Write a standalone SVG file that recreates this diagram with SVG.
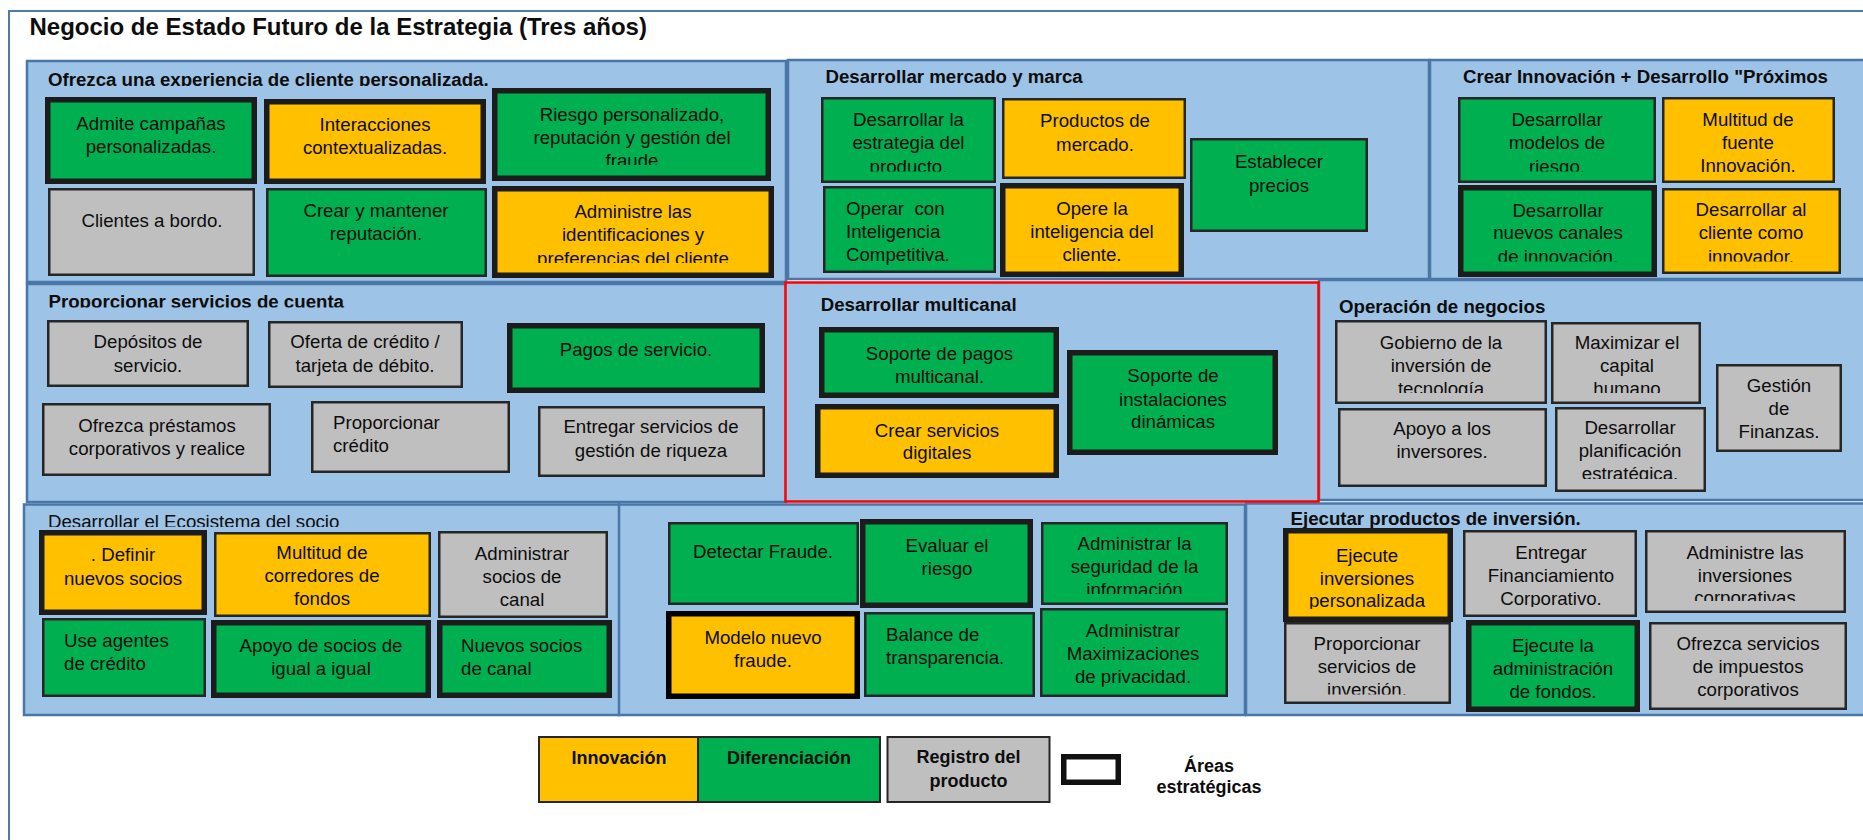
<svg xmlns="http://www.w3.org/2000/svg" width="1863" height="840" viewBox="0 0 1863 840">
<style>
.bg{fill:#ffffff}
.frame{fill:none;stroke:#4f7bab;stroke-width:2}
.pan{fill:#9dc3e6;stroke:#4a76a8;stroke-width:2.5}
.red{fill:#9dc3e6;stroke:#ff0000;stroke-width:2.5}
.g{fill:#00b050}
.o{fill:#ffc000}
.gr{fill:#bfbfbf}
.t{stroke:#1c1c1c;stroke-width:5.5}
.m{stroke:#262626;stroke-width:2.5}
text{font-family:"Liberation Sans",Arial,sans-serif;font-size:18.67px;fill:#0d0d0d}
.c{text-anchor:middle}
.b{font-weight:bold}
.title{font-size:24px;font-weight:bold}
</style>
<defs>
<clipPath id="c3"><rect x="492" y="88" width="279" height="77"/></clipPath>
<clipPath id="c6"><rect x="492" y="186" width="282" height="77"/></clipPath>
<clipPath id="c7"><rect x="821" y="97" width="175" height="74.5"/></clipPath>
<clipPath id="c12"><rect x="1458" y="97" width="198" height="74.5"/></clipPath>
<clipPath id="c14"><rect x="1458" y="185" width="199" height="76.5"/></clipPath>
<clipPath id="c15"><rect x="1662" y="188" width="179" height="73.5"/></clipPath>
<clipPath id="c25"><rect x="1335" y="320" width="212" height="73"/></clipPath>
<clipPath id="c26"><rect x="1551" y="322" width="150" height="71"/></clipPath>
<clipPath id="c29"><rect x="1555" y="407" width="151" height="72"/></clipPath>
<clipPath id="c38"><rect x="1041" y="522" width="187" height="72"/></clipPath>
<clipPath id="c42"><rect x="1283" y="528" width="170" height="81"/></clipPath>
<clipPath id="c43"><rect x="1463" y="530" width="174" height="77"/></clipPath>
<clipPath id="c44"><rect x="1645" y="530" width="201" height="71"/></clipPath>
<clipPath id="c45"><rect x="1284" y="622" width="167" height="72.5"/></clipPath>
<clipPath id="cp1"><rect x="27" y="61" width="759" height="25"/></clipPath>
<clipPath id="cp4"><rect x="27" y="284" width="759" height="23.5"/></clipPath>
<clipPath id="cp7"><rect x="24" y="504" width="595" height="23"/></clipPath>
</defs>
<rect class="bg" x="0" y="0" width="1863" height="840"/>
<rect class="frame" x="9" y="11" width="1900" height="900"/>
<text class="title" x="29.5" y="35">Negocio de Estado Futuro de la Estrategia (Tres años)</text>

<g id="panels">
<g id="p_ofrezca"><rect class="pan" x="27" y="61" width="759" height="221"/><text class="b" x="48" y="85.5" clip-path="url(#cp1)">Ofrezca una experiencia de cliente personalizada.</text></g>
<g id="p_mercado"><rect class="pan" x="788" y="60" width="641" height="219"/><text class="b" x="825.5" y="83">Desarrollar mercado y marca</text></g>
<g id="p_innovacion"><rect class="pan" x="1430" y="60" width="460" height="219"/><text class="b" x="1463" y="82.7">Crear Innovación + Desarrollo "Próximos</text></g>
<g id="p_cuenta"><rect class="pan" x="27" y="284" width="759" height="218"/><text class="b" x="48.5" y="307.5" clip-path="url(#cp4)">Proporcionar servicios de cuenta</text></g>
<g id="p_operacion"><rect class="pan" x="1319" y="280" width="560" height="220"/><text class="b" x="1339" y="313.3">Operación de negocios</text></g>
<g id="p_ecosistema"><rect class="pan" x="24" y="504.5" width="595.5" height="210.5"/><text x="48" y="528" clip-path="url(#cp7)">Desarrollar el Ecosistema del socio</text></g>
<g id="p_fraude"><rect class="pan" x="619" y="504.5" width="626" height="210.5"/></g>
<g id="p_inversion"><rect class="pan" x="1246" y="503.5" width="640" height="211.5"/><text class="b" x="1290.5" y="525">Ejecutar productos de inversión.</text></g>
<g id="p_multicanal"><rect class="red" x="785.5" y="282.5" width="533" height="219"/><text class="b" x="820.7" y="311">Desarrollar multicanal</text></g>
</g>

<g id="connectors"></g>

<g id="n_admite"><rect class="g t" x="47.75" y="99.75" width="206.5" height="81.5"/><text class="c" x="151" y="130">Admite campañas</text><text class="c" x="151" y="152.5">personalizadas.</text></g>
<g id="n_interacciones"><rect class="o t" x="266.75" y="101.75" width="216.5" height="79.5"/><text class="c" x="375" y="131">Interacciones</text><text class="c" x="375" y="153.5">contextualizadas.</text></g>
<g id="n_riesgo"><rect class="g t" x="494.75" y="90.75" width="273.5" height="87.5"/><g clip-path="url(#c3)"><text class="c" x="632" y="121">Riesgo personalizado,</text><text class="c" x="632" y="143.7">reputación y gestión del</text><text class="c" x="632" y="166.5">fraude</text></g></g>
<g id="n_clientes"><rect class="gr m" x="49.25" y="189.25" width="204.5" height="85.5"/><text class="c" x="152" y="227">Clientes a bordo.</text></g>
<g id="n_crear"><rect class="g m" x="267.25" y="189.25" width="218.5" height="86.5"/><text class="c" x="376" y="217">Crear y mantener</text><text class="c" x="376" y="239.5">reputación.</text></g>
<g id="n_identificaciones"><rect class="o t" x="494.75" y="188.75" width="276.5" height="86.5"/><g clip-path="url(#c6)"><text class="c" x="633" y="218">Administre las</text><text class="c" x="633" y="241">identificaciones y</text><text class="c" x="633" y="264.5">preferencias del cliente</text></g></g>

<g id="n_estrategia"><rect class="g m" x="822.25" y="98.25" width="172.5" height="83.5"/><g clip-path="url(#c7)"><text class="c" x="908.5" y="126">Desarrollar la</text><text class="c" x="908.5" y="149">estrategia del</text><text class="c" x="908.5" y="172.5">producto.</text></g></g>
<g id="n_productos"><rect class="o m" x="1003.25" y="99.25" width="181.5" height="78.5"/><text class="c" x="1095" y="127">Productos de</text><text class="c" x="1095" y="151">mercado.</text></g>
<g id="n_precios"><rect class="g m" x="1191.25" y="139.25" width="175.5" height="91.5"/><text class="c" x="1279" y="168">Establecer</text><text class="c" x="1279" y="192">precios</text></g>
<g id="n_operar"><rect class="g m" x="824.25" y="187.25" width="170.5" height="84.5"/><text x="846" y="215" xml:space="preserve">Operar  con</text><text x="846" y="237.5">Inteligencia</text><text x="846" y="260.5">Competitiva.</text></g>
<g id="n_opere"><rect class="o t" x="1002.75" y="185.75" width="178.5" height="88.5"/><text class="c" x="1092" y="215">Opere la</text><text class="c" x="1092" y="238">inteligencia del</text><text class="c" x="1092" y="261">cliente.</text></g>

<g id="n_modelos"><rect class="g m" x="1459.25" y="98.25" width="195.5" height="83.5"/><g clip-path="url(#c12)"><text class="c" x="1557" y="126">Desarrollar</text><text class="c" x="1557" y="149">modelos de</text><text class="c" x="1557" y="172.5">riesgo.</text></g></g>
<g id="n_multitud_fuente"><rect class="o m" x="1663.25" y="98.25" width="170.5" height="83.5"/><text class="c" x="1748" y="126">Multitud de</text><text class="c" x="1748" y="149">fuente</text><text class="c" x="1748" y="171.5">Innovación.</text></g>
<g id="n_canales"><rect class="g t" x="1460.75" y="187.75" width="193.5" height="86.5"/><g clip-path="url(#c14)"><text class="c" x="1558" y="216.5">Desarrollar</text><text class="c" x="1558" y="239">nuevos canales</text><text class="c" x="1558" y="262.5">de innovación.</text></g></g>
<g id="n_innovador"><rect class="o m" x="1663.25" y="189.25" width="176.5" height="83.5"/><g clip-path="url(#c15)"><text class="c" x="1751" y="216">Desarrollar al</text><text class="c" x="1751" y="239">cliente como</text><text class="c" x="1751" y="262.5">innovador.</text></g></g>

<g id="n_depositos"><rect class="gr m" x="48.25" y="321.25" width="199.5" height="64.5"/><text class="c" x="148" y="348">Depósitos de</text><text class="c" x="148" y="371.5">servicio.</text></g>
<g id="n_oferta"><rect class="gr m" x="269.25" y="322.25" width="192.5" height="64.5"/><text class="c" x="365" y="348">Oferta de crédito /</text><text class="c" x="365" y="371.5">tarjeta de débito.</text></g>
<g id="n_pagos"><rect class="g t" x="509.75" y="325.75" width="252.5" height="64.5"/><text class="c" x="636" y="356">Pagos de servicio.</text></g>
<g id="n_prestamos"><rect class="gr m" x="43.25" y="404.25" width="226.5" height="70.5"/><text class="c" x="157" y="431.5">Ofrezca préstamos</text><text class="c" x="157" y="455">corporativos y realice</text></g>
<g id="n_credito"><rect class="gr m" x="312.25" y="402.25" width="196.5" height="69.5"/><text x="333" y="429">Proporcionar</text><text x="333" y="451.5">crédito</text></g>
<g id="n_riqueza"><rect class="gr m" x="539.25" y="407.25" width="224.5" height="68.5"/><text class="c" x="651" y="433">Entregar servicios de</text><text class="c" x="651" y="456.5">gestión de riqueza</text></g>

<g id="n_soporte_pagos"><rect class="g t" x="821.75" y="329.75" width="234.5" height="65.5"/><text class="c" x="939.5" y="360">Soporte de pagos</text><text class="c" x="939.5" y="382.5">multicanal.</text></g>
<g id="n_digitales"><rect class="o t" x="817.75" y="406.75" width="238.5" height="68.5"/><text class="c" x="937" y="436.5">Crear servicios</text><text class="c" x="937" y="459">digitales</text></g>
<g id="n_instalaciones"><rect class="g t" x="1069.75" y="352.75" width="205.5" height="99.5"/><text class="c" x="1173" y="382">Soporte de</text><text class="c" x="1173" y="405.5">instalaciones</text><text class="c" x="1173" y="428">dinámicas</text></g>

<g id="n_gobierno"><rect class="gr m" x="1336.25" y="321.25" width="209.5" height="81.5"/><g clip-path="url(#c25)"><text class="c" x="1441" y="349">Gobierno de la</text><text class="c" x="1441" y="371.5">inversión de</text><text class="c" x="1441" y="394.5">tecnología</text></g></g>
<g id="n_capital"><rect class="gr m" x="1552.25" y="323.25" width="147.5" height="79.5"/><g clip-path="url(#c26)"><text class="c" x="1627" y="349">Maximizar el</text><text class="c" x="1627" y="371.5">capital</text><text class="c" x="1627" y="394.5">humano</text></g></g>
<g id="n_finanzas"><rect class="gr m" x="1717.25" y="365.25" width="123.5" height="85.5"/><text class="c" x="1779" y="391.5">Gestión</text><text class="c" x="1779" y="415">de</text><text class="c" x="1779" y="438">Finanzas.</text></g>
<g id="n_inversores"><rect class="gr m" x="1339.25" y="409.25" width="206.5" height="76.5"/><text class="c" x="1442" y="435">Apoyo a los</text><text class="c" x="1442" y="458">inversores.</text></g>
<g id="n_planificacion"><rect class="gr m" x="1556.25" y="408.25" width="148.5" height="82.5"/><g clip-path="url(#c29)"><text class="c" x="1630" y="434">Desarrollar</text><text class="c" x="1630" y="456.5">planificación</text><text class="c" x="1630" y="480">estratégica.</text></g></g>

<g id="n_definir"><rect class="o t" x="41.75" y="532.75" width="162.5" height="79.5"/><text class="c" x="123" y="561">. Definir</text><text class="c" x="123" y="585">nuevos socios</text></g>
<g id="n_corredores"><rect class="o m" x="215.25" y="533.25" width="214.5" height="82.5"/><text class="c" x="322" y="559">Multitud de</text><text class="c" x="322" y="582">corredores de</text><text class="c" x="322" y="605">fondos</text></g>
<g id="n_socios_canal"><rect class="gr m" x="439.25" y="532.25" width="167.5" height="84.5"/><text class="c" x="522" y="560">Administrar</text><text class="c" x="522" y="583">socios de</text><text class="c" x="522" y="606">canal</text></g>
<g id="n_agentes"><rect class="g m" x="43.25" y="619.25" width="161.5" height="76.5"/><text x="64" y="647">Use agentes</text><text x="64" y="670">de crédito</text></g>
<g id="n_igual"><rect class="g t" x="213.75" y="622.75" width="214.5" height="72.5"/><text class="c" x="321" y="651.5">Apoyo de socios de</text><text class="c" x="321" y="675">igual a igual</text></g>
<g id="n_nuevos_canal"><rect class="g t" x="439.75" y="622.75" width="169.5" height="72.5"/><text x="461" y="651.5">Nuevos socios</text><text x="461" y="674.5">de canal</text></g>

<g id="n_detectar"><rect class="g m" x="669.25" y="523.25" width="188.5" height="80.5"/><text class="c" x="763" y="558">Detectar Fraude.</text></g>
<g id="n_evaluar"><rect class="g t" x="862.75" y="521.75" width="167.5" height="83.5"/><text class="c" x="947" y="551.5">Evaluar el</text><text class="c" x="947" y="575">riesgo</text></g>
<g id="n_seguridad"><rect class="g m" x="1042.25" y="523.25" width="184.5" height="80.5"/><g clip-path="url(#c38)"><text class="c" x="1134.5" y="550">Administrar la</text><text class="c" x="1134.5" y="573">seguridad de la</text><text class="c" x="1134.5" y="596">información</text></g></g>
<g id="n_modelo_fraude"><rect class="o t" style="stroke:#000" x="668.75" y="613.75" width="188.5" height="82.5"/><text class="c" x="763" y="643.5">Modelo nuevo</text><text class="c" x="763" y="666.5">fraude.</text></g>
<g id="n_balance"><rect class="g m" x="865.25" y="613.25" width="168.5" height="82.5"/><text x="886" y="641">Balance de</text><text x="886" y="664">transparencia.</text></g>
<g id="n_privacidad"><rect class="g m" x="1041.25" y="609.25" width="185.5" height="86.5"/><text class="c" x="1133" y="637">Administrar</text><text class="c" x="1133" y="660">Maximizaciones</text><text class="c" x="1133" y="683">de privacidad.</text></g>

<g id="n_ejecute_personalizada"><rect class="o t" x="1285.75" y="530.75" width="164.5" height="88.5"/><g clip-path="url(#c42)"><text class="c" x="1367" y="561.5">Ejecute</text><text class="c" x="1367" y="584.5">inversiones</text><text class="c" x="1367" y="607">personalizada</text></g></g>
<g id="n_financiamiento"><rect class="gr m" x="1464.25" y="531.25" width="171.5" height="84.5"/><g clip-path="url(#c43)"><text class="c" x="1551" y="558.5">Entregar</text><text class="c" x="1551" y="581.5">Financiamiento</text><text class="c" x="1551" y="604.5">Corporativo.</text></g></g>
<g id="n_inversiones_corp"><rect class="gr m" x="1646.25" y="531.25" width="198.5" height="80.5"/><g clip-path="url(#c44)"><text class="c" x="1745" y="558.5">Administre las</text><text class="c" x="1745" y="581.5">inversiones</text><text class="c" x="1745" y="604">corporativas</text></g></g>
<g id="n_servicios_inversion"><rect class="gr m" x="1285.25" y="623.25" width="164.5" height="79.5"/><g clip-path="url(#c45)"><text class="c" x="1367" y="650">Proporcionar</text><text class="c" x="1367" y="673">servicios de</text><text class="c" x="1367" y="696">inversión.</text></g></g>
<g id="n_fondos"><rect class="g t" x="1468.75" y="622.75" width="168.5" height="86.5"/><text class="c" x="1553" y="651.5">Ejecute la</text><text class="c" x="1553" y="674.5">administración</text><text class="c" x="1553" y="697.5">de fondos.</text></g>
<g id="n_impuestos"><rect class="gr m" x="1650.25" y="623.25" width="195.5" height="85.5"/><text class="c" x="1748" y="650">Ofrezca servicios</text><text class="c" x="1748" y="673">de impuestos</text><text class="c" x="1748" y="696">corporativos</text></g>

<g id="legend">
<g id="l_innovacion"><rect class="o" style="stroke:#262626;stroke-width:2" x="539" y="737" width="159" height="65"/><text class="c b" style="font-size:18px" x="619" y="764">Innovación</text></g>
<g id="l_diferenciacion"><rect class="g" style="stroke:#262626;stroke-width:2" x="698" y="737" width="182" height="65"/><text class="c b" style="font-size:18px" x="789" y="764">Diferenciación</text></g>
<g id="l_registro"><rect class="gr" style="stroke:#262626;stroke-width:2" x="887.5" y="737" width="162" height="65"/><text class="c b" style="font-size:18px" x="968.5" y="763">Registro del</text><text class="c b" style="font-size:18px" x="968.5" y="786.5">producto</text></g>
<g id="l_areas"><rect style="fill:#ffffff;stroke:#111;stroke-width:5.5" x="1063.75" y="756.75" width="54.5" height="25.5"/><text class="c b" style="font-size:18px" x="1209" y="771.5">Áreas</text><text class="c b" style="font-size:18px" x="1209" y="793">estratégicas</text></g>
</g>
</svg>
